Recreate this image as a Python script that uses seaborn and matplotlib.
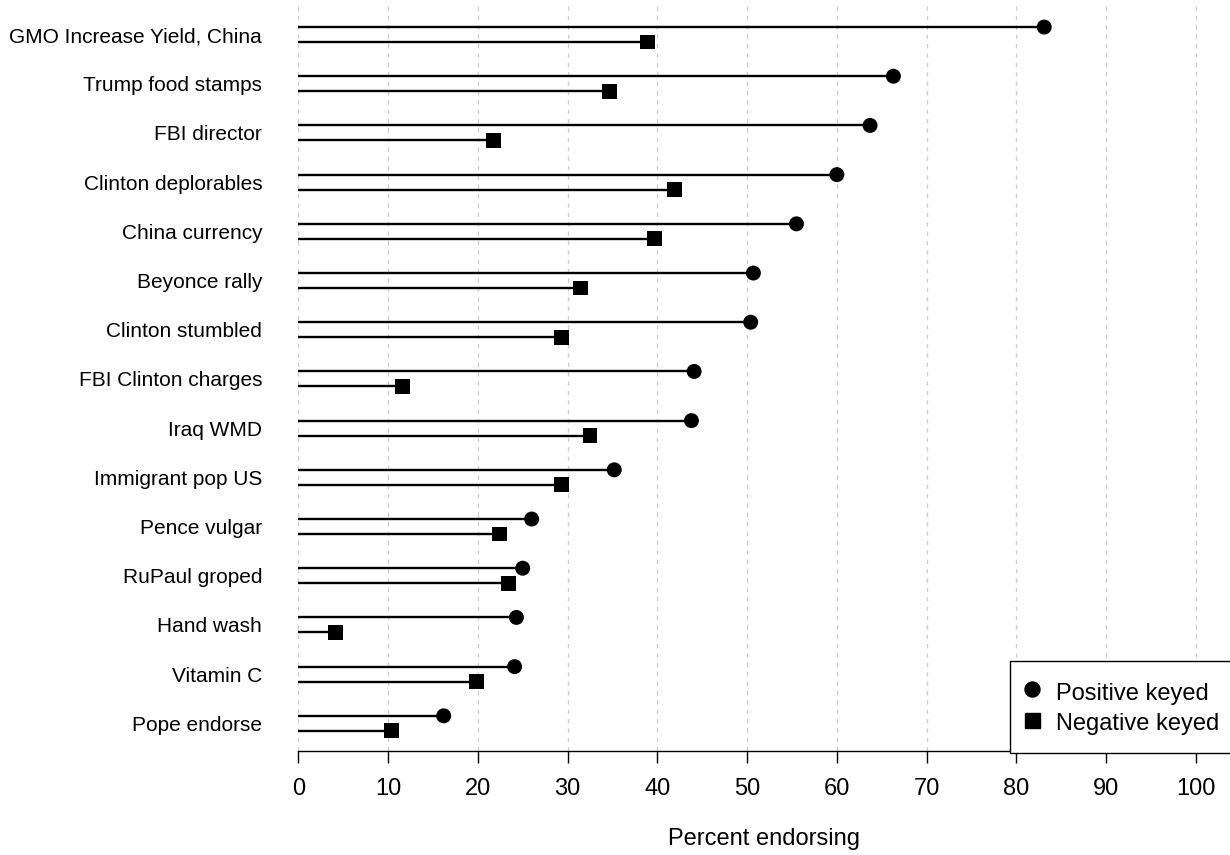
import matplotlib
matplotlib.use("Agg")
import matplotlib.pyplot as plt
from matplotlib.lines import Line2D
import numpy as np
import pandas as pd
import seaborn as sns

categories = ["GMO Increase Yield, China", "Trump food stamps", "FBI director",
              "Clinton deplorables", "China currency", "Beyonce rally",
              "Clinton stumbled", "FBI Clinton charges", "Iraq WMD",
              "Immigrant pop US", "Pence vulgar", "RuPaul groped",
              "Hand wash", "Vitamin C", "Pope endorse"]
positive = [83.1, 66.3, 63.7, 60.0, 55.5, 50.7, 50.4, 44.1, 43.8, 35.2,
            26.0, 25.0, 24.3, 24.1, 16.2]
negative = [38.9, 34.7, 21.8, 41.9, 39.7, 31.4, 29.3, 11.6, 32.5, 29.3,
            22.4, 23.4, 4.1, 19.8, 10.4]
series = ["Positive keyed", "Negative keyed"]
xticks = list(range(0, 101, 10))
xlabel = "Percent endorsing"

sns.set_theme(style="white")
plt.rcParams['font.family'] = ['Liberation Sans', 'DejaVu Sans']
plt.rcParams['text.color'] = 'black'
plt.rcParams['axes.labelcolor'] = 'black'
plt.rcParams['xtick.color'] = 'black'
plt.rcParams['ytick.color'] = 'black'

n = len(categories)
idx = np.arange(n)
off = 0.152
df = pd.DataFrame({
    "item": categories * 2,
    "value": positive + negative,
    "key": [series[0]] * n + [series[1]] * n,
    "ypos": list(idx - off) + list(idx + off),
})

fig = plt.figure(figsize=(12.3, 8.55), dpi=100)
ax = fig.add_axes([298.3 / 1230, 104 / 855, 1 - 298.3 / 1230, 850 / 855 - 104 / 855])

ax.hlines(df["ypos"], 0, df["value"], color="black", linewidth=1.7, zorder=2)
sns.scatterplot(data=df, x="value", y="ypos", style="key",
                markers={series[0]: "o", series[1]: "s"},
                s=116, color="black", linewidth=0, legend=False, ax=ax, zorder=3)

ax.set_xlim(0, 103.8)
ax.set_ylim(14.563, -0.6)
ax.set_xticks(xticks)
ax.set_xticklabels([str(t) for t in xticks], fontsize=17, color="black")
ax.set_yticks(idx)
ax.set_yticklabels(categories, fontsize=15, color="black")
ax.tick_params(axis='y', length=0, pad=26)
ax.tick_params(axis='x', length=8.6, width=1.0, color="black", pad=11, direction="out", bottom=True)
ax.set_xlabel(xlabel, fontsize=17, labelpad=20, color="black")
ax.set_ylabel("")

ax.grid(axis='x', color='#cccccc', linestyle=(0, (3.5, 4)), linewidth=0.9, zorder=0)
ax.grid(axis='y', visible=False)
for s in ["left", "top", "right"]:
    ax.spines[s].set_visible(False)
ax.spines["bottom"].set_color("black")
ax.spines["bottom"].set_linewidth(1.0)

handles = [Line2D([], [], marker="o", linestyle="none", color="black", markersize=10.8),
           Line2D([], [], marker="s", linestyle="none", color="black", markersize=10.8)]
leg = ax.legend(handles, series, loc="upper left",
                bbox_to_anchor=(1010 / 1230, 1 - 661 / 855), bbox_transform=fig.transFigure,
                fontsize=17, frameon=True, fancybox=False, framealpha=1,
                edgecolor="black", borderpad=0.77, labelspacing=0.21,
                handlelength=0.35, handleheight=1.27, handletextpad=0.83, borderaxespad=0)
leg.get_frame().set_linewidth(1.0)
for t in leg.get_texts():
    t.set_color("black")

fig.savefig("out.png", dpi=100)
